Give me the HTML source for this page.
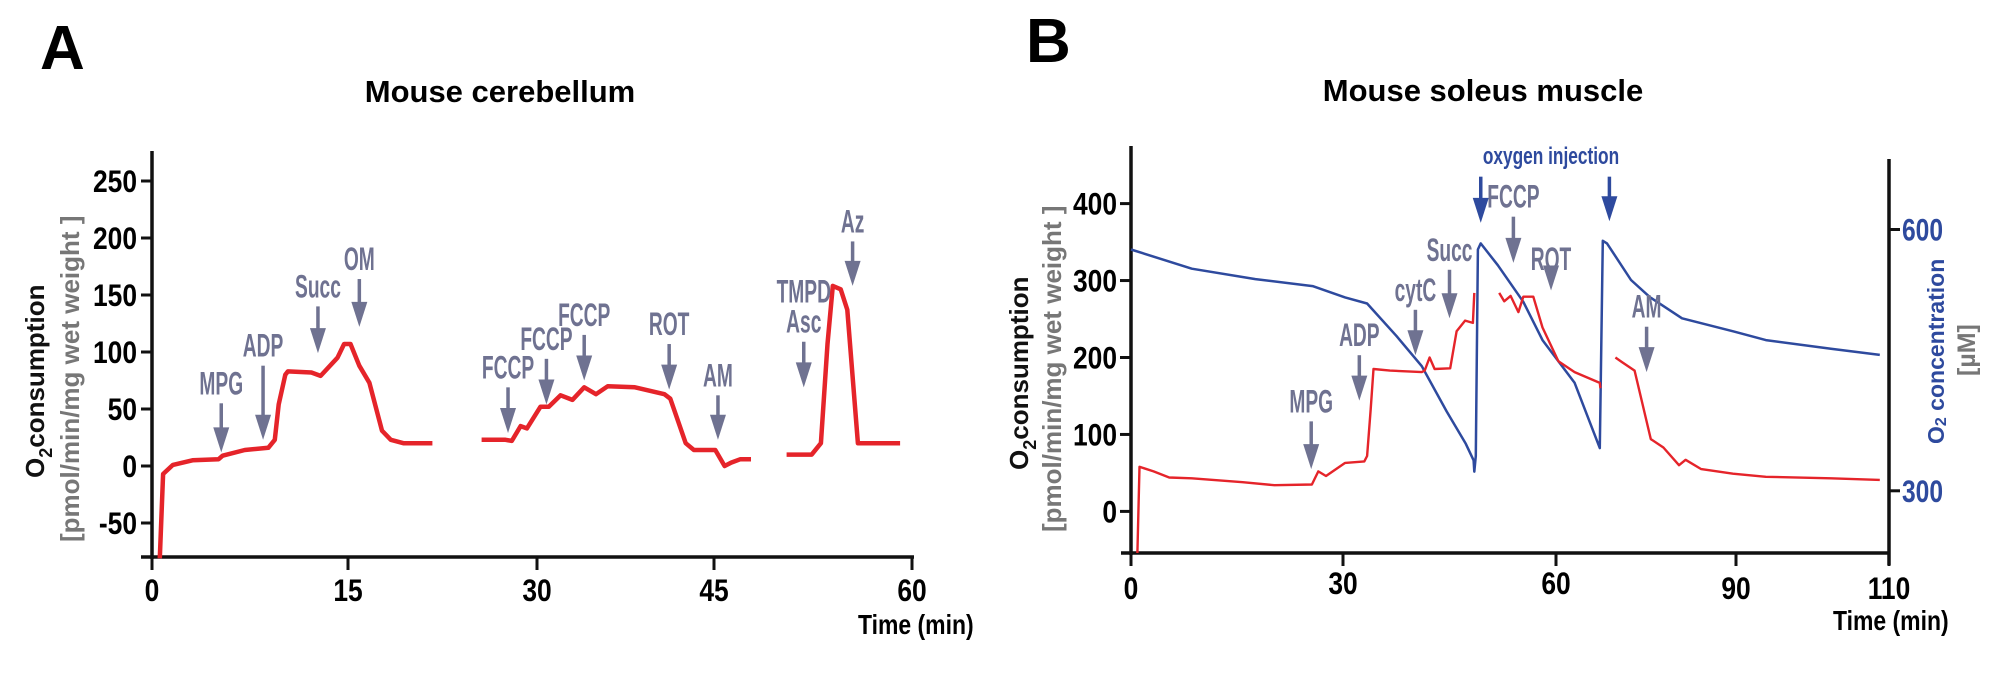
<!DOCTYPE html>
<html><head><meta charset="utf-8"><style>
html,body{margin:0;padding:0;background:#fff;}
svg{display:block;font-family:"Liberation Sans",sans-serif;}
</style></head><body>
<svg id="fig" width="2008" height="675" viewBox="0 0 2008 675">
<text x="40" y="69" font-size="62" font-weight="bold">A</text>
<text x="1026" y="62" font-size="62" font-weight="bold">B</text>
<text x="500" y="102" font-size="31" font-weight="bold" text-anchor="middle">Mouse cerebellum</text>
<text x="1483" y="101" font-size="31" font-weight="bold" text-anchor="middle">Mouse soleus muscle</text>
<g>
<text transform="translate(44,478) rotate(-90)" font-size="26" font-weight="bold" fill="#111">O<tspan font-size="18" dy="8">2</tspan><tspan dy="-8">consumption</tspan></text>
<text transform="translate(79,542) rotate(-90)" font-size="26" font-weight="bold" fill="#777">[pmol/min/mg wet weight ]</text>
</g>
<g>
<text transform="translate(1028,470) rotate(-90)" font-size="26" font-weight="bold" fill="#111">O<tspan font-size="18" dy="8">2</tspan><tspan dy="-8">consumption</tspan></text>
<text transform="translate(1061,532) rotate(-90)" font-size="26" font-weight="bold" fill="#777">[pmol/min/mg wet weight ]</text>
</g>
<g>
<text transform="translate(1944,444) rotate(-90)" font-size="23" font-weight="bold" fill="#2e4a9e">O<tspan font-size="16" dy="2">2</tspan><tspan dy="-2"> concentration</tspan></text>
<text transform="translate(1975,376) rotate(-90)" font-size="25" font-weight="bold" fill="#777">[µM]</text>
</g>
<text transform="translate(858,634) scale(0.82,1)" font-size="28" font-weight="bold">Time (min)</text>
<text transform="translate(1833,630) scale(0.82,1)" font-size="28" font-weight="bold">Time (min)</text>
<g id="plot"></g>
</svg>
<script>
// Panel A data
const aTicksX = [0, 15, 30, 45, 60];
const aTicksY = [-50, 0, 50, 100, 150, 200, 250];
const aSeg1T = [0.6,0.85,1.6,3.1,5.1,5.4,7.1,8.9,9.4,9.7,10.2,10.4,12.2,12.9,14.2,14.7,15.2,15.9,16.7,17.7,18.4,19.4,21.7];
const aSeg1V = [-81,-7,1,5,6,9,14,16,23,54,80,83,82,79,95,107,107,88,73,31,23,20,20];
const aSeg2T = [25.6,27.5,28,28.7,29.2,30.3,31,32,33,34,35,36,38.3,40.8,41.3,42.6,43.3,45.1,45.3,45.8,46.3,47,47.8];
const aSeg2V = [23,23,22,35,33,52,52,62,58,69,63,70,69,63,59,20,14,14,10,0,3,6,6];
const aSeg3T = [50.5,52.4,53.1,53.6,54,54.6,55.1,55.9,59.1];
const aSeg3V = [10,10,20,107,158,155,137,20,20];
const aArrowT = [5.3,8.5,12.7,15.9,27.7,30.8,34,41.2,45.3,51.8,55.5];
const aArrowV = [12,23,99,122,29,54,75,67,23,69,158];
const aArrowTop = [55,88,140,164,69,94,115,107,62,109,197];
const aArrowLabels = [["MPG"],["ADP"],["Succ"],["OM"],["FCCP"],["FCCP"],["FCCP"],["ROT"],["AM"],["TMPD","Asc"],["Az"]];
// Panel B data
const bTicksX = [0, 30, 60, 90, 110];
const bTicksYL = [0, 100, 200, 300, 400];
const bTicksYR = [300, 600];
const bRed1T = [0.9,1.2,3.2,5.4,8.6,15.8,20.3,25.6,26.5,27.6,30.3,33,33.4,33.9,34.3,36.6,41.1,41.5,42.2,42.9,45.1,46,47.2,48.3,48.5];
const bRed1V = [-54,58,52,44,43,38,34,35,52,46,63,65,72,133,185,183,181,183,200,185,186,234,248,245,284];
const bRed2T = [52,52.7,53.6,54.7,55.4,56.8,58.1,60.4,63.1,67.3,67.4];
const bRed2V = [284,273,280,259,279,279,239,195,181,167,160];
const bRed3T = [69.9,71,73.1,75.8,77.9,80.5,81.6,84.2,89.5,93.9,102.4,108.8];
const bRed3V = [200,194,183,94,83,60,67,55,49,45,43,41];
const bBlueT = [0,8.6,17.6,25.7,30.3,33.4,37.5,41.1,44.6,47.3,48.4,48.5,48.7,49,49.4,51.8,55.4,58.1,63.1,67.3,67.8,68.5,72.5,75.7,81,89.6,93.9,102.4,108.8];
const bBlueC = [577,555,543,535,522,515,478,443,391,354,335,322,340,577,584,559,517,473,424,349,587,584,542,522,498,483,473,463,456];
const bArrowT = [25.5,32.3,40.2,45,54,59.3,75.1];
const bArrowV = [55,144,203,251,323,287,181];
const bArrowTop = [117,203,262,314,383,302,240];
const bArrowLabels = ["MPG","ADP","cytC","Succ","FCCP","ROT","AM"];
const bO2T = [49.4,68.9];
const bO2V = [375,377];
const bO2Top = [435,435];

const NS="http://www.w3.org/2000/svg";
const plot=document.getElementById('plot');
function mk(tag,attrs,parent){const e=document.createElementNS(NS,tag);for(const k in attrs)e.setAttribute(k,attrs[k]);(parent||plot).appendChild(e);return e;}
function piece(ticks,px){return function(t){let i=0;while(i<ticks.length-2&&t>ticks[i+1])i++;return px[i]+(t-ticks[i])*(px[i+1]-px[i])/(ticks[i+1]-ticks[i]);};}
const axA=piece([0,15,30,45,60],[152,348,537,714,912]);
const ayA=v=>466-v*1.14;
const bxB=piece([0,30,60,90,110],[1131,1343,1556,1736,1889]);
const byL=v=>511.4-v*0.7695;
const byR=c=>490.8-(c-300)*0.871;
const RED="#e5242a",BLUE="#2e4a9e",GRAY="#6f7291";

function line(xs,ys,fx,fy,color,w,name){
  const d=xs.map((t,i)=>(i?'L':'M')+fx(t).toFixed(1)+' '+fy(ys[i]).toFixed(1)).join(' ');
  const p=mk('path',{d:d,fill:'none',stroke:color,'stroke-width':w,'stroke-linejoin':'round'});
  
  
}
function arrow(x,tipY,top,color,labels,name){
  const g=mk('g',{});
  
  
  mk('line',{x1:x,y1:top,x2:x,y2:tipY-20,stroke:color,'stroke-width':3.5},g);
  mk('polygon',{points:(x-8)+','+(tipY-25)+' '+(x+8)+','+(tipY-25)+' '+x+','+tipY,fill:color},g);
  for(let i=0;i<labels.length;i++){
    const t=mk('text',{transform:'translate('+x+','+(top-9-(labels.length-1-i)*30)+') scale(0.6,1)','font-size':32,'font-weight':'bold',fill:color,'text-anchor':'middle'},g);
    t.textContent=labels[i];
  }
}
// Panel A axes
const gA=mk('g',{});


mk('line',{x1:152,y1:151,x2:152,y2:559,stroke:'#111','stroke-width':3.5},gA);
mk('line',{x1:141,y1:557,x2:914,y2:557,stroke:'#111','stroke-width':3.5},gA);
aTicksY.forEach(v=>{const y=ayA(v);mk('line',{x1:141,y1:y,x2:152,y2:y,stroke:'#111','stroke-width':3},gA);
  const t=mk('text',{transform:'translate(137,'+(y+11)+') scale(0.88,1.05)','font-size':30,'font-weight':'bold','text-anchor':'end'},gA);t.textContent=v;
  
  });
aTicksX.forEach(v=>{const x=axA(v);mk('line',{x1:x,y1:557,x2:x,y2:570,stroke:'#111','stroke-width':3},gA);
  const t=mk('text',{transform:'translate('+x+',601) scale(0.88,1.05)','font-size':30,'font-weight':'bold','text-anchor':'middle'},gA);t.textContent=v;
  
  });
line(aSeg1T,aSeg1V,axA,ayA,RED,4.5,'a-trace-segment-1');
line(aSeg2T,aSeg2V,axA,ayA,RED,4.5,'a-trace-segment-2');
line(aSeg3T,aSeg3V,axA,ayA,RED,4.5,'a-trace-segment-3');
aArrowT.forEach((t,i)=>arrow(axA(t),ayA(aArrowV[i]),ayA(aArrowTop[i]),GRAY,aArrowLabels[i],'a-arrow-'+aArrowLabels[i][0].toLowerCase()));
// Panel B axes
const gB=mk('g',{});


mk('line',{x1:1131,y1:146,x2:1131,y2:555,stroke:'#111','stroke-width':3.5},gB);
mk('line',{x1:1121,y1:553,x2:1890,y2:553,stroke:'#111','stroke-width':3.5},gB);
mk('line',{x1:1889,y1:159,x2:1889,y2:565,stroke:'#111','stroke-width':3.5},gB);
bTicksYL.forEach(v=>{const y=byL(v);mk('line',{x1:1120,y1:y,x2:1131,y2:y,stroke:'#111','stroke-width':3},gB);
  const t=mk('text',{transform:'translate(1117,'+(y+11)+') scale(0.88,1.05)','font-size':30,'font-weight':'bold','text-anchor':'end'},gB);t.textContent=v;
  
  });
bTicksYR.forEach(v=>{const y=byR(v);mk('line',{x1:1889,y1:y,x2:1900,y2:y,stroke:'#111','stroke-width':3},gB);
  const t=mk('text',{transform:'translate(1902,'+(y+11)+') scale(0.82,1.05)','font-size':30,'font-weight':'bold',fill:BLUE},gB);t.textContent=v;
  
  });
bTicksX.forEach(v=>{const x=bxB(v);mk('line',{x1:x,y1:553,x2:x,y2:566,stroke:'#111','stroke-width':3},gB);
  const t=mk('text',{transform:'translate('+x+','+(v===0||v===90||v===110?599:594)+') scale(0.88,1.05)','font-size':30,'font-weight':'bold','text-anchor':'middle'},gB);t.textContent=v;
  
  });
line(bBlueT,bBlueC,bxB,byR,BLUE,2.5,'b-oxygen-concentration-line');
line(bRed1T,bRed1V,bxB,byL,RED,2.4,'b-trace-segment-1');
line(bRed2T,bRed2V,bxB,byL,RED,2.4,'b-trace-segment-2');
line(bRed3T,bRed3V,bxB,byL,RED,2.4,'b-trace-segment-3');
bArrowT.forEach((t,i)=>arrow(bxB(t),byL(bArrowV[i]),byL(bArrowTop[i]),GRAY,[bArrowLabels[i]],'b-arrow-'+bArrowLabels[i].toLowerCase()));
bO2T.forEach((t,i)=>arrow(bxB(t),byL(bO2V[i]),byL(bO2Top[i]),BLUE,[],'b-oxygen-injection-arrow'));
const oi=mk('text',{transform:'translate(1551,164) scale(0.72,1)','font-size':24,'font-weight':'bold',fill:BLUE,'text-anchor':'middle'});
oi.textContent='oxygen injection';


</script>
</body></html>
